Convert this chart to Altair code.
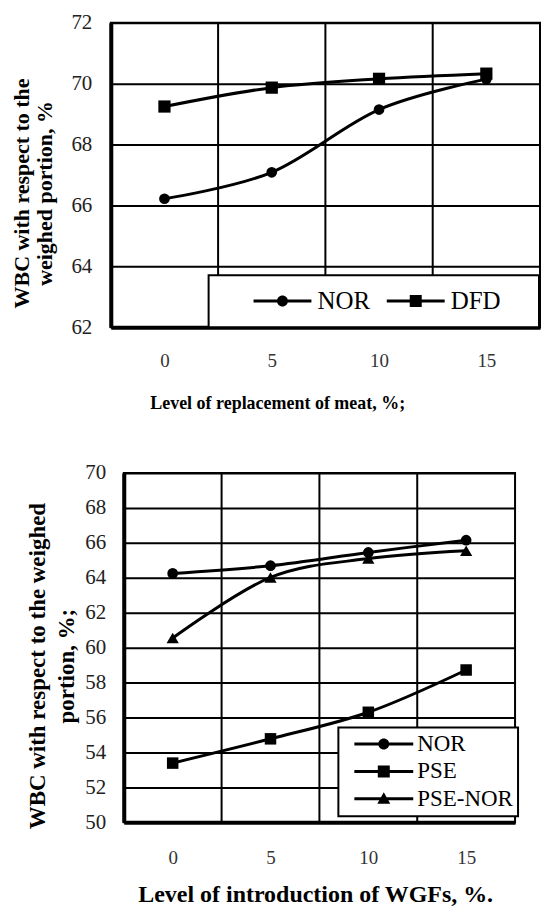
import altair as alt
import pandas as pd

# ---------------- data ----------------
levels = [0, 5, 10, 15]

top_series = ["NOR", "DFD"]
top_nor = [66.22, 67.09, 69.15, 70.15]
top_dfd = [69.25, 69.87, 70.16, 70.33]
top_yticks = [62, 64, 66, 68, 70, 72]
top_ytitle = ["WBC with respect to the", "weighed portion, %"]
top_xtitle = "Level of replacement of meat, %;"

bot_series = ["NOR", "PSE", "PSE-NOR"]
bot_nor = [64.25, 64.69, 65.45, 66.15]
bot_pse = [53.39, 54.78, 56.30, 58.72]
bot_psenor = [60.55, 64.02, 65.10, 65.55]
bot_yticks = [50, 52, 54, 56, 58, 60, 62, 64, 66, 68, 70]
bot_ytitle = ["WBC with respect to the weighed", "portion, %;"]
bot_xtitle = "Level of introduction of WGFs, %."

SERIF = "Liberation Serif"


def long_df(series, values_list):
    rows = []
    for s, vals in zip(series, values_list):
        for lv, v in zip(levels, vals):
            rows.append({"level": lv, "value": v, "series": s})
    return pd.DataFrame(rows)


step = levels[1] - levels[0]
xdomain = [levels[0] - step / 2, levels[-1] + step / 2]
band_edges = pd.DataFrame({"b": [(a + b) / 2 for a, b in zip(levels[:-1], levels[1:])]})

# ---------------- styles ----------------
top_style = dict(
    w=430, h=305, ytfs=22, ytx=-89, yty=170.5, ytlh=23, ylabpad=19,
    xlabpad=24, xtfs=18, xtx=39, xty=81,
    shapes=["circle", "square"], sizes=[115, 150],
    leg=dict(legendX=98, legendY=253, direction="horizontal", padding=13,
             labelFontSize=25, labelOffset=39.5, columnPadding=15.5,
             title=" ", titleOrient="left", titleFontSize=1, titlePadding=31.5),
    paths=[
        "M-12,-1.5H46V1.5H-12Z M22.5,0A5.5,5.5 0 1,1 11.5,0A5.5,5.5 0 1,1 22.5,0Z",
        "M-12,-1.5H46V1.5H-12Z M11,-6H23V6H11Z M127,0L127.01,0Z",
    ],
)
bot_style = dict(
    w=392, h=350, ytfs=23, ytx=-86, yty=193, ytlh=28.5, ylabpad=18,
    xlabpad=26, xtfs=24, xtx=14, xty=79,
    shapes=["circle", "square", "triangle-up"], sizes=[115, 150, 150],
    leg=dict(legendX=215, legendY=255, direction="vertical", padding=5,
             labelFontSize=23, labelOffset=51, rowPadding=3.5, title=None),
    paths=[
        "M-0.5,-1.5H58.5V1.5H-0.5Z M34.5,0A5.5,5.5 0 1,1 23.5,0A5.5,5.5 0 1,1 34.5,0Z",
        "M-0.5,-1.5H58.5V1.5H-0.5Z M23,-6H35V6H23Z",
        "M-0.5,-1.5H58.5V1.5H-0.5Z M29,-6.5L35.5,5H22.5Z",
    ],
)


def panel(df, series, yticks, ytitle, xtitle, st):
    xscale = alt.Scale(domain=xdomain, nice=False, zero=False)
    yscale = alt.Scale(domain=[yticks[0], yticks[-1]], nice=False, zero=False)
    x_axis = alt.Axis(
        values=levels, grid=False, ticks=False, tickSize=0,
        domainColor="black", domainWidth=4,
        labelFont=SERIF, labelFontSize=19, labelColor="#333333",
        labelPadding=st["xlabpad"],
        title=xtitle, titleFont=SERIF, titleFontSize=st["xtfs"],
        titleFontWeight="bold", titleColor="black",
        titleX=st["xtx"], titleY=st["xty"], titleAlign="left",
        titleBaseline="alphabetic", titleAnchor="start",
    )
    y_axis = alt.Axis(
        values=yticks, grid=True, gridColor="black", gridWidth=2, gridOpacity=1,
        ticks=False, tickSize=0, domainColor="black", domainWidth=4,
        labelFont=SERIF, labelFontSize=21, labelColor="#222222",
        labelPadding=st["ylabpad"],
        title=ytitle, titleFont=SERIF, titleFontSize=st["ytfs"],
        titleFontWeight="bold", titleColor="black", titleAngle=270,
        titleAlign="center", titleBaseline="middle",
        titleX=st["ytx"], titleY=st["yty"], titleLineHeight=st["ytlh"],
    )
    x = alt.X("level:Q", scale=xscale, axis=x_axis)
    y = alt.Y("value:Q", scale=yscale, axis=y_axis)

    rules = alt.Chart(band_edges).mark_rule(color="black", strokeWidth=2).encode(
        x=alt.X("b:Q", scale=xscale, axis=x_axis)
    )
    lines = alt.Chart(df).mark_line(
        interpolate="cardinal", color="black", strokeWidth=3
    ).encode(x=x, y=y, detail="series:N")
    points = alt.Chart(df).mark_point(
        filled=True, color="black", opacity=1
    ).encode(
        x=x, y=y,
        shape=alt.Shape("series:N", scale=alt.Scale(domain=series, range=st["shapes"]), legend=None),
        size=alt.Size("series:N", scale=alt.Scale(domain=series, range=st["sizes"]), legend=None),
    )
    leg = st["leg"]
    legend = alt.Legend(
        orient="none", symbolSize=4, symbolStrokeWidth=0,
        symbolFillColor="black", symbolOpacity=1,
        labelFont=SERIF, labelColor="black", labelLimit=400,
        strokeColor="black", fillColor="white", cornerRadius=0,
        **leg,
    )
    # legend-only layer: no data rows survive the filter, the legend comes from the scale domain
    legpts = alt.Chart(df).mark_point(
        filled=True, color="black"
    ).transform_filter(
        alt.datum.level < xdomain[0]
    ).encode(
        x=x, y=y,
        shape=alt.Shape("series:N", scale=alt.Scale(domain=series, range=st["paths"]), legend=legend),
    )
    return alt.layer(rules, lines, points, legpts).resolve_scale(
        shape="independent"
    ).properties(
        width=st["w"], height=st["h"],
        view=alt.ViewBackground(stroke="black", strokeWidth=2),
    )


def spacer(w):
    return alt.Chart(pd.DataFrame({"s": [0]})).mark_text(text="").encode(
        x=alt.value(0), y=alt.value(0)
    ).properties(width=w, height=1)


top_df = long_df(top_series, [top_nor, top_dfd])
bot_df = long_df(bot_series, [bot_nor, bot_pse, bot_psenor])

top_chart = panel(top_df, top_series, top_yticks, top_ytitle, top_xtitle, top_style)
bot_chart = panel(bot_df, bot_series, bot_yticks, bot_ytitle, bot_xtitle, bot_style)

top_row = alt.hconcat(spacer(10), top_chart, spacing=0).resolve_scale(
    shape="independent", size="independent"
)
bot_row = alt.hconcat(spacer(25), bot_chart, spacing=0).resolve_scale(
    shape="independent", size="independent"
)

chart = alt.vconcat(top_row, bot_row, spacing=48).resolve_scale(
    shape="independent", size="independent"
).resolve_legend(
    shape="independent", size="independent"
).properties(
    padding={"left": 0, "top": 10, "right": 0, "bottom": 0},
    background="white",
).configure_view(strokeWidth=0).configure_legend(strokeWidth=2)

chart.save("out.html", embed_options={"renderer": "svg", "actions": False})
